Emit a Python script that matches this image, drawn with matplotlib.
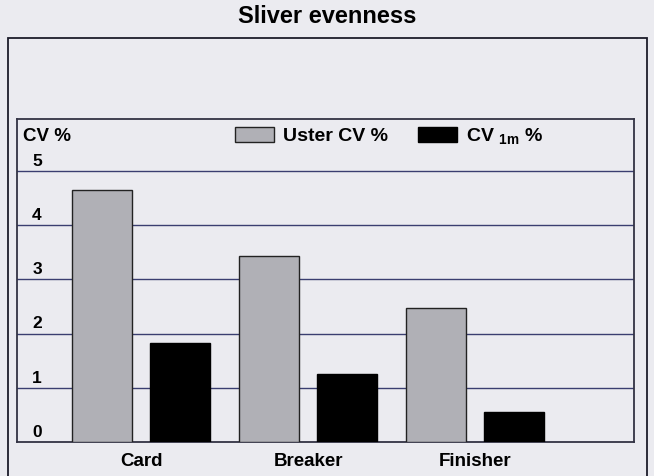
import matplotlib
matplotlib.use('Agg')
import matplotlib.pyplot as plt
from matplotlib.patches import Rectangle
import numpy as np

# values
categories = ['Card', 'Breaker', 'Finisher']
uster_cv = [4.65, 3.43, 2.47]
cv_1m = [1.82, 1.26, 0.56]
y_ticks = [0, 1, 2, 3, 4, 5]

plt.rcParams['font.family'] = ['Liberation Sans', 'DejaVu Sans']
plt.rcParams['font.weight'] = 'bold'
plt.rcParams['mathtext.fontset'] = 'custom'
plt.rcParams['mathtext.rm'] = 'Liberation Sans:bold'
plt.rcParams['mathtext.it'] = 'Liberation Sans:bold'
plt.rcParams['mathtext.bf'] = 'Liberation Sans:bold'

bg = '#ebebf0'
W, H = 654, 476

fig = plt.figure(figsize=(W / 100, H / 100), dpi=100, facecolor=bg)

# outer frame around the whole chart
fig.patches.append(Rectangle((8 / W, -0.05), 639 / W, 1.05 - 38 / H,
                             transform=fig.transFigure, fill=False,
                             edgecolor='#1c1c2a', linewidth=1.3))

fig.text(327.5 / W, 1 - 16.5 / H, 'Sliver evenness', ha='center', va='center',
         fontsize=17, fontweight='bold')

ax = fig.add_axes([17 / W, 1 - 442 / H, 617 / W, 323 / H])
ax.set_facecolor(bg)

x = np.arange(len(categories))
w = 0.36
off = 0.234
ax.bar(x - off, uster_cv, w, color='#b0b0b6', edgecolor='#222222',
       linewidth=1, zorder=3, label='Uster CV %')
ax.bar(x + off, cv_1m, w, color='black', edgecolor='black',
       linewidth=1, zorder=3, label='CV $_{1m}$ %')

for v in y_ticks[1:]:
    ax.axhline(v, color='#3a3e70', lw=1.0, zorder=1)

ax.set_xlim(-0.743, 2.952)
ax.set_ylim(0, 5.96)
ax.set_xticks(x, categories, fontsize=13.5, fontweight='bold')
ax.tick_params(axis='x', length=0, pad=8)
ax.set_yticks([])
for s in ax.spines.values():
    s.set_color('#333344')
    s.set_linewidth(1.3)

# y labels sit just above their grid lines
for v in y_ticks:
    ax.annotate(str(v), xy=(0.0324, v), xycoords=('axes fraction', 'data'),
                xytext=(0, 7), textcoords='offset points',
                ha='center', va='center', fontsize=12.5, fontweight='bold')

ax.text(6 / 617, (442 - 136.5) / 323, 'CV %', transform=ax.transAxes,
        ha='left', va='center', fontsize=13.5, fontweight='bold')

ax.legend(loc='center', bbox_to_anchor=((389.5 - 17) / 617, (442 - 136) / 323),
          ncol=2, frameon=False, prop={'size': 14, 'weight': 'bold'},
          handlelength=2.0, handleheight=0.82, handletextpad=0.46,
          columnspacing=1.55)

fig.savefig('out.png', dpi=100, facecolor=bg)
